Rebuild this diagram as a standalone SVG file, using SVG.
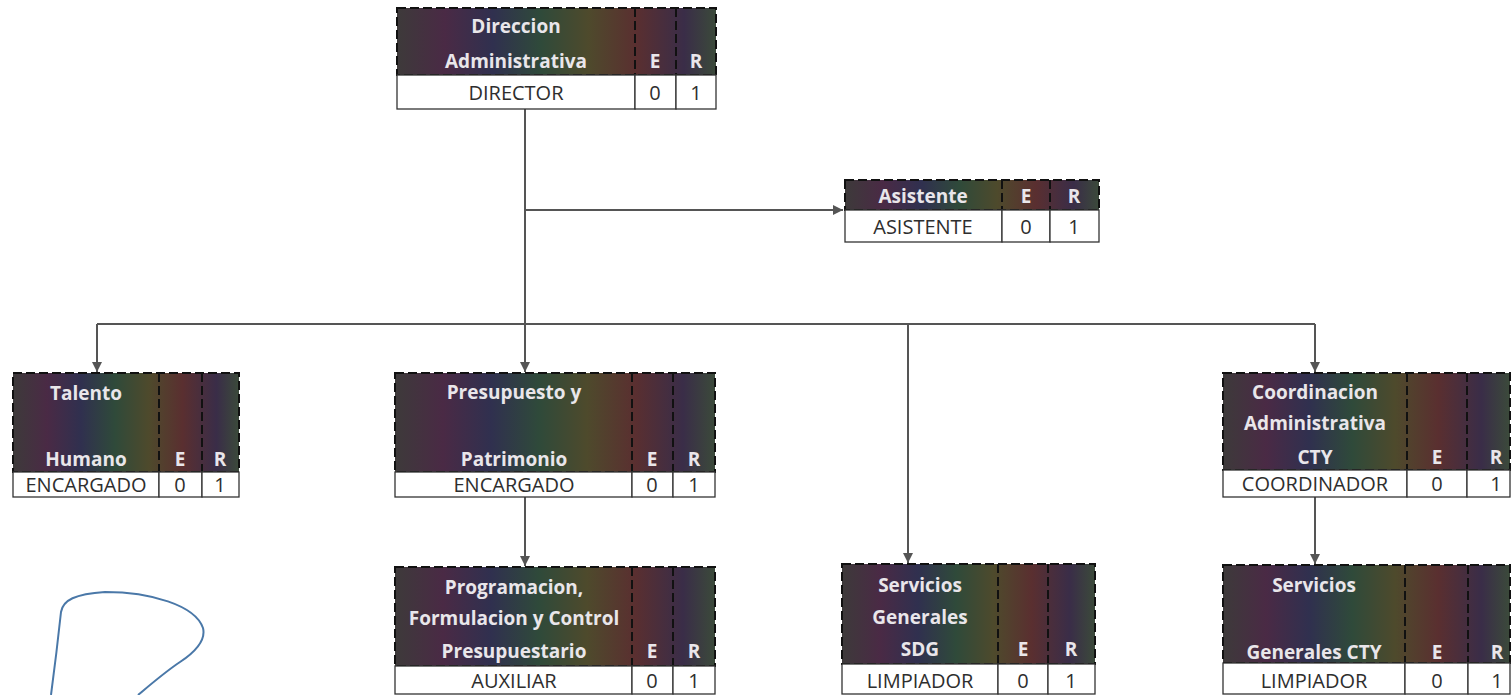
<svg xmlns="http://www.w3.org/2000/svg" width="1511" height="695" viewBox="0 0 1511 695">
<style>
.hd{fill:url(#hg);stroke:#111;stroke-width:2;stroke-dasharray:9 4}
.dv{stroke:#111;stroke-width:2;stroke-dasharray:9 4;fill:none}
.rw{fill:#fff;stroke:#333;stroke-width:1.3}
.ht{font-family:"Open Sans",Lato,sans-serif;font-weight:bold;font-size:19px;fill:#e9e6ea;text-anchor:middle}
.rt{font-family:"Open Sans",Lato,sans-serif;font-size:20px;fill:#2e2e2e;text-anchor:middle}
.ln{stroke:#555;stroke-width:2;fill:none}
</style>
<defs>
<linearGradient id="hg" x1="0" y1="0" x2="1" y2="0">
<stop offset="0" stop-color="#3d3a3a"/>
<stop offset="0.15" stop-color="#4a2a45"/>
<stop offset="0.3" stop-color="#30304f"/>
<stop offset="0.45" stop-color="#2f4a3a"/>
<stop offset="0.6" stop-color="#4e4a2c"/>
<stop offset="0.75" stop-color="#5a2f30"/>
<stop offset="0.9" stop-color="#3a2d48"/>
<stop offset="1" stop-color="#3b4a3a"/>
</linearGradient>
<marker id="ar" viewBox="0 0 10 10" refX="10" refY="5" markerWidth="5" markerHeight="5" orient="auto">
<path d="M0,0 L10,5 L0,10 z" fill="#555"/>
</marker>
</defs>
<rect width="1511" height="695" fill="#fff"/>

<g id="connectors">
<path class="ln" d="M525,109 V324"/>
<path class="ln" d="M525,210 H843" marker-end="url(#ar)"/>
<path class="ln" d="M97,324 H1315"/>
<path class="ln" d="M97,324 V372" marker-end="url(#ar)"/>
<path class="ln" d="M525,324 V372" marker-end="url(#ar)"/>
<path class="ln" d="M908,324 V563" marker-end="url(#ar)"/>
<path class="ln" d="M1315,324 V372" marker-end="url(#ar)"/>
<path class="ln" d="M525,496 V566" marker-end="url(#ar)"/>
<path class="ln" d="M1315,496 V564" marker-end="url(#ar)"/>
</g>

<g id="n-direccion">
<rect class="hd" x="397" y="8" width="319" height="67"/>
<path class="dv" d="M635,8 V75 M676,8 V75"/>
<rect class="rw" x="397" y="75" width="238" height="34"/>
<rect class="rw" x="635" y="75" width="41" height="34"/>
<rect class="rw" x="676" y="75" width="40" height="34"/>
<text class="ht" x="516" y="33">Direccion</text>
<text class="ht" x="516" y="68">Administrativa</text>
<text class="ht" x="655" y="68">E</text>
<text class="ht" x="696" y="68">R</text>
<text class="rt" x="516" y="100">DIRECTOR</text>
<text class="rt" x="655" y="100">0</text>
<text class="rt" x="696" y="100">1</text>
</g>

<g id="n-asistente">
<rect class="hd" x="845" y="180" width="254" height="30"/>
<path class="dv" d="M1002,180 V210 M1050,180 V210"/>
<rect class="rw" x="845" y="210" width="157" height="32"/>
<rect class="rw" x="1002" y="210" width="48" height="32"/>
<rect class="rw" x="1050" y="210" width="49" height="32"/>
<text class="ht" x="923" y="203">Asistente</text>
<text class="ht" x="1026" y="203">E</text>
<text class="ht" x="1074" y="203">R</text>
<text class="rt" x="923" y="234">ASISTENTE</text>
<text class="rt" x="1026" y="234">0</text>
<text class="rt" x="1074" y="234">1</text>
</g>

<g id="n-talento">
<rect class="hd" x="13" y="373" width="226" height="99"/>
<path class="dv" d="M159,373 V472 M202,373 V472"/>
<rect class="rw" x="13" y="472" width="146" height="25"/>
<rect class="rw" x="159" y="472" width="43" height="25"/>
<rect class="rw" x="202" y="472" width="37" height="25"/>
<text class="ht" x="86" y="400">Talento</text>
<text class="ht" x="86" y="466">Humano</text>
<text class="ht" x="180" y="466">E</text>
<text class="ht" x="220" y="466">R</text>
<text class="rt" x="86" y="492">ENCARGADO</text>
<text class="rt" x="180" y="492">0</text>
<text class="rt" x="220" y="492">1</text>
</g>

<g id="n-presupuesto">
<rect class="hd" x="395" y="373" width="320" height="99"/>
<path class="dv" d="M632,373 V472 M673,373 V472"/>
<rect class="rw" x="395" y="472" width="237" height="25"/>
<rect class="rw" x="632" y="472" width="41" height="25"/>
<rect class="rw" x="673" y="472" width="42" height="25"/>
<text class="ht" x="514" y="399">Presupuesto y</text>
<text class="ht" x="514" y="466">Patrimonio</text>
<text class="ht" x="652" y="466">E</text>
<text class="ht" x="694" y="466">R</text>
<text class="rt" x="514" y="492">ENCARGADO</text>
<text class="rt" x="652" y="492">0</text>
<text class="rt" x="694" y="492">1</text>
</g>

<g id="n-coordinacion">
<rect class="hd" x="1223" y="373" width="287" height="97"/>
<path class="dv" d="M1407,373 V470 M1467,373 V470"/>
<rect class="rw" x="1223" y="470" width="184" height="27"/>
<rect class="rw" x="1407" y="470" width="60" height="27"/>
<rect class="rw" x="1467" y="470" width="43" height="27"/>
<text class="ht" x="1315" y="399">Coordinacion</text>
<text class="ht" x="1315" y="430">Administrativa</text>
<text class="ht" x="1315" y="464">CTY</text>
<text class="ht" x="1437" y="464">E</text>
<text class="ht" x="1496" y="464">R</text>
<text class="rt" x="1315" y="491">COORDINADOR</text>
<text class="rt" x="1437" y="491">0</text>
<text class="rt" x="1496" y="491">1</text>
</g>

<g id="n-programacion">
<rect class="hd" x="395" y="567" width="320" height="99"/>
<path class="dv" d="M632,567 V666 M673,567 V666"/>
<rect class="rw" x="395" y="666" width="237" height="28"/>
<rect class="rw" x="632" y="666" width="41" height="28"/>
<rect class="rw" x="673" y="666" width="42" height="28"/>
<text class="ht" x="514" y="594">Programacion,</text>
<text class="ht" x="514" y="625">Formulacion y Control</text>
<text class="ht" x="514" y="658">Presupuestario</text>
<text class="ht" x="652" y="658">E</text>
<text class="ht" x="694" y="658">R</text>
<text class="rt" x="514" y="688">AUXILIAR</text>
<text class="rt" x="652" y="688">0</text>
<text class="rt" x="694" y="688">1</text>
</g>

<g id="n-servicios-sdg">
<rect class="hd" x="842" y="564" width="253" height="100"/>
<path class="dv" d="M998,564 V664 M1048,564 V664"/>
<rect class="rw" x="842" y="664" width="156" height="30"/>
<rect class="rw" x="998" y="664" width="50" height="30"/>
<rect class="rw" x="1048" y="664" width="47" height="30"/>
<text class="ht" x="920" y="592">Servicios</text>
<text class="ht" x="920" y="624">Generales</text>
<text class="ht" x="920" y="656">SDG</text>
<text class="ht" x="1023" y="656">E</text>
<text class="ht" x="1071" y="656">R</text>
<text class="rt" x="920" y="688">LIMPIADOR</text>
<text class="rt" x="1023" y="688">0</text>
<text class="rt" x="1071" y="688">1</text>
</g>

<g id="n-servicios-cty">
<rect class="hd" x="1223" y="565" width="287" height="98"/>
<path class="dv" d="M1405,565 V663 M1468,565 V663"/>
<rect class="rw" x="1223" y="663" width="182" height="31"/>
<rect class="rw" x="1405" y="663" width="63" height="31"/>
<rect class="rw" x="1468" y="663" width="42" height="31"/>
<text class="ht" x="1314" y="592">Servicios</text>
<text class="ht" x="1314" y="659">Generales CTY</text>
<text class="ht" x="1437" y="659">E</text>
<text class="ht" x="1497" y="659">R</text>
<text class="rt" x="1314" y="688">LIMPIADOR</text>
<text class="rt" x="1437" y="688">0</text>
<text class="rt" x="1497" y="688">1</text>
</g>

<path d="M51,695 C55,665 58,640 61,612 C63,600 75,594 105,592 C150,592 195,605 203,628 C206,640 195,652 180,662 C165,672 150,685 138,695" fill="none" stroke="#4a78a8" stroke-width="2"/>
</svg>
